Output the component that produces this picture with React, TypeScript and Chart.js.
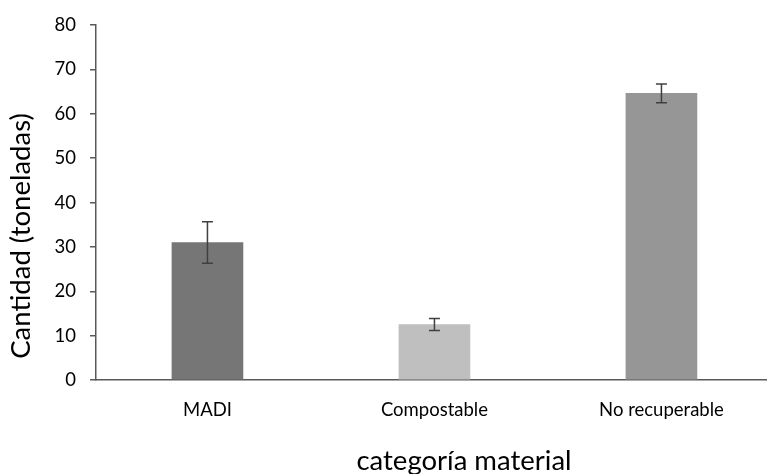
import React, { useEffect, useRef } from "react";
import { Chart, registerables } from "chart.js";

Chart.register(...registerables);

const categories = ["MADI", "Compostable", "No recuperable"];
const values = [31.0, 12.5, 64.6];
const errors = [4.7, 1.35, 2.1];
const barColors = ["#767676", "#bfbfbf", "#969696"];
const yTicks = [0, 10, 20, 30, 40, 50, 60, 70, 80];
const xTitle = "categoría material";
const yTitle = "Cantidad (toneladas)";

const FONT = "Lato, 'Noto Sans', sans-serif";
const AXIS = "#595959";

const errorBarPlugin = {
  id: "errorBars",
  afterDatasetsDraw(chart: any) {
    const ctx = chart.ctx;
    const meta = chart.getDatasetMeta(0);
    const ys = chart.scales.y;
    ctx.save();
    ctx.strokeStyle = "#404040";
    ctx.lineWidth = 1.5;
    meta.data.forEach((el: any, i: number) => {
      const x = el.x;
      const top = ys.getPixelForValue(values[i] + errors[i]);
      const bot = ys.getPixelForValue(values[i] - errors[i]);
      ctx.beginPath();
      ctx.moveTo(x, top);
      ctx.lineTo(x, bot);
      ctx.moveTo(x - 5.5, top);
      ctx.lineTo(x + 5.5, top);
      ctx.moveTo(x - 5.5, bot);
      ctx.lineTo(x + 5.5, bot);
      ctx.stroke();
    });
    ctx.restore();
  },
};

const titlePlugin = {
  id: "freeTitles",
  afterDraw(chart: any) {
    const ctx = chart.ctx;
    ctx.save();
    ctx.fillStyle = "#000000";
    ctx.textAlign = "center";
    ctx.textBaseline = "middle";
    ctx.font = `27.5px ${FONT}`;
    ctx.fillText(xTitle, 464, 461);
    ctx.translate(21, 236);
    ctx.rotate(-Math.PI / 2);
    ctx.fillText(yTitle, 0, 0);
    ctx.restore();
  },
};

export default function App() {
  const ref = useRef<HTMLCanvasElement>(null);
  useEffect(() => {
    document.body.style.margin = "0";
    const chart = new Chart(ref.current!, {
      type: "bar",
      data: {
        datasets: [
          {
            data: values.map((v, i) => ({ x: i, y: v })),
            backgroundColor: barColors,
            borderWidth: 0,
            barThickness: 71,
          },
        ],
      },
      options: {
        animation: false,
        responsive: false,
        maintainAspectRatio: false,
        layout: { padding: { left: 0, right: 0, top: 21, bottom: 0 } },
        plugins: { legend: { display: false }, tooltip: { enabled: false } },
        scales: {
          x: {
            type: "linear",
            offset: false,
            bounds: "ticks",
            min: -0.491,
            max: 2.465,
            afterBuildTicks: (axis: any) => {
              axis.ticks = categories.map((_, i) => ({ value: i }));
            },
            afterFit: (axis: any) => {
              axis.height = 94;
            },
            grid: { display: false, drawTicks: false, offset: false },
            border: { display: true, color: AXIS, width: 1.5 },
            ticks: {
              autoSkip: false,
              maxRotation: 0,
              padding: 19,
              color: "#000000",
              font: { family: FONT, size: 18.5 },
              callback: (v: any) => categories[v as number],
            },
          },
          y: {
            type: "linear",
            min: 0,
            max: 80,
            afterBuildTicks: (axis: any) => {
              axis.ticks = yTicks.map((v) => ({ value: v }));
            },
            afterFit: (axis: any) => {
              axis.width = 96;
            },
            grid: {
              display: true,
              drawOnChartArea: false,
              drawTicks: true,
              tickLength: 6,
              color: AXIS,
              lineWidth: 1.5,
            },
            border: { display: true, color: AXIS, width: 1.5 },
            ticks: {
              padding: 14,
              color: "#000000",
              font: { family: FONT, size: 18.5 },
            },
          },
        },
      },
      plugins: [errorBarPlugin, titlePlugin],
    } as any);
    return () => chart.destroy();
  }, []);
  return (
    <div style={{ width: 767, height: 474, position: "relative" }}>
      <canvas ref={ref} width={767} height={474} style={{ width: 767, height: 474, display: "block" }} />
    </div>
  );
}
